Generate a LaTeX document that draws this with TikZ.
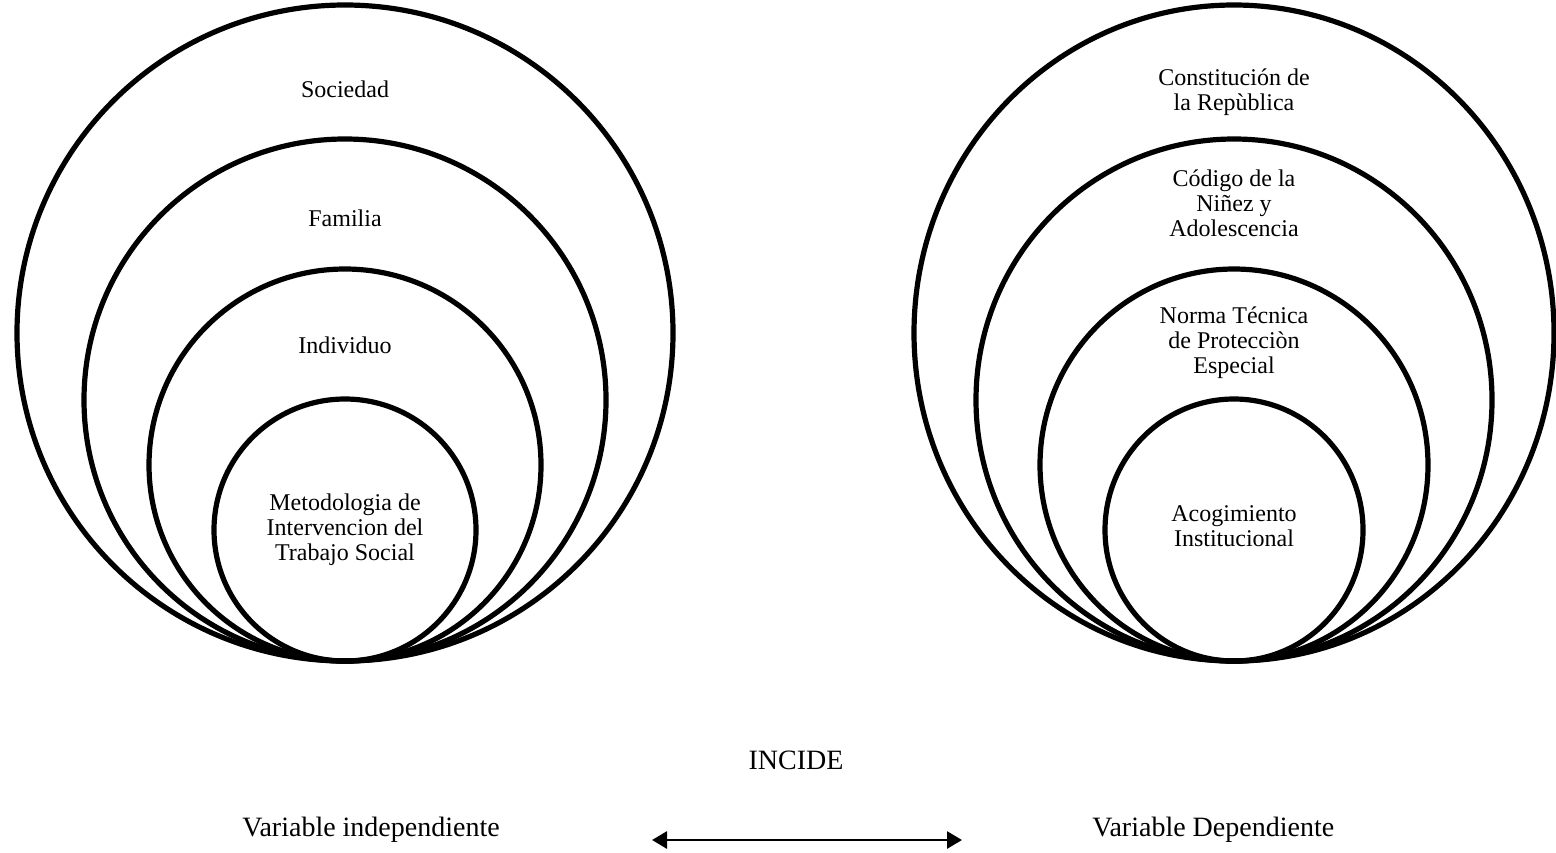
\documentclass[tikz,border=0pt]{standalone}
\usepackage{fontspec}
\setmainfont{Liberation Serif}
\usetikzlibrary{arrows.meta}

\begin{document}
\begin{tikzpicture}[x=.5pt, y=-.5pt,
    aro/.style={line width=2.6pt},
    circtxt/.style={align=center, inner sep=0pt, font=\fontsize{12}{12.5}\selectfont},
    etiqueta/.style={inner sep=0pt, font=\fontsize{14}{16}\selectfont}]
    \useasboundingbox (0,0) rectangle (1556,852);
    % variable independiente
    \draw[aro] (345,333) circle [radius=328];
    \draw[aro] (345,400) circle [radius=261];
    \draw[aro] (345,465) circle [radius=196];
    \draw[aro] (345,530) circle [radius=131];
    \node[circtxt] (soc) at (345,89) {Sociedad};
    \node[circtxt] (fam) at (345,218) {Familia};
    \node[circtxt] (ind) at (345,345) {Individuo};
    \node[circtxt] (met) at (345,530) {Metodologia de\\Intervencion del\\Trabajo Social};
    % variable dependiente
    \draw[aro] (1234,333) ellipse [x radius=320, y radius=328];
    \draw[aro] (1234,400) ellipse [x radius=258, y radius=261];
    \draw[aro] (1234,465) ellipse [x radius=194, y radius=196];
    \draw[aro] (1234,530) ellipse [x radius=129, y radius=131];
    \node[circtxt] (cons) at (1234,92) {Constitución de\\la Repùblica};
    \node[circtxt] (cod) at (1234,203) {Código de la\\Niñez y\\Adolescencia};
    \node[circtxt] (norma) at (1234,343) {Norma Técnica\\de Protecciòn\\Especial};
    \node[circtxt] (acog) at (1234,526) {Acogimiento\\Institucional};
    % relacion
    \node[etiqueta] (incide) at (796,760) {INCIDE};
    \node[etiqueta, anchor=west] (varind) at (242,830) {Variable independiente};
    \node[etiqueta, anchor=west] (vardep) at (1092,830) {Variable Dependiente};
    \coordinate (flechaA) at (652,840);
    \coordinate (flechaB) at (962,840);
    \draw[line width=1.4pt, {Triangle[length=7.5pt,width=8.5pt]}-{Triangle[length=7.5pt,width=8.5pt]}] (flechaA) -- (flechaB);
\end{tikzpicture}
\end{document}
